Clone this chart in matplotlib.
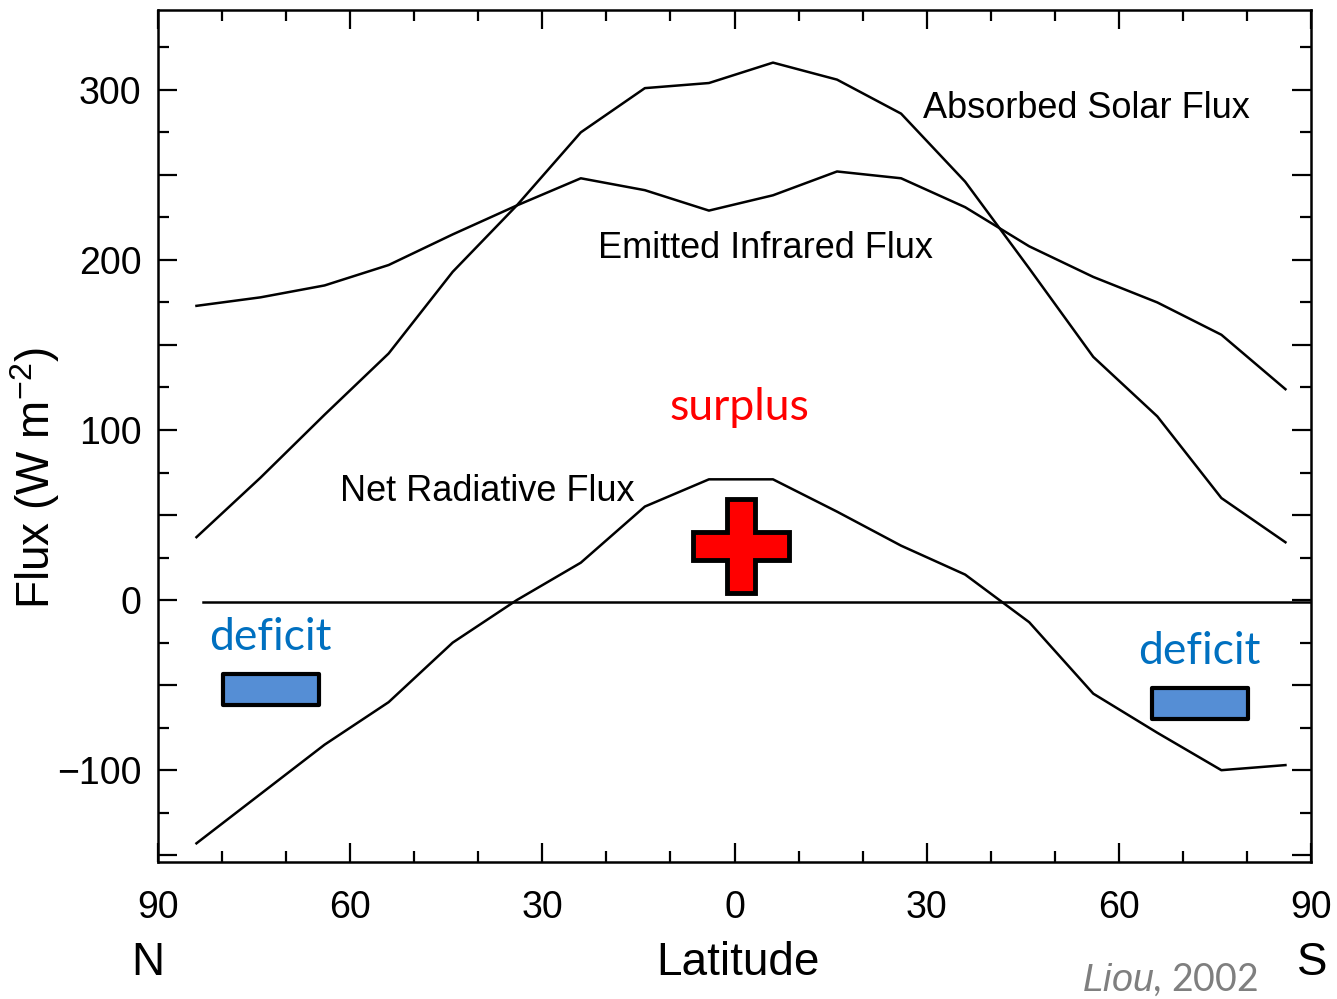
import matplotlib
matplotlib.use("Agg")
import matplotlib.pyplot as plt
from matplotlib.patches import Polygon, Rectangle
from matplotlib.ticker import MultipleLocator, FuncFormatter

plt.rcParams['font.family'] = ['Liberation Sans', 'DejaVu Sans']
plt.rcParams['mathtext.fontset'] = 'custom'
plt.rcParams['mathtext.rm'] = 'Liberation Sans'
plt.rcParams['mathtext.it'] = 'Liberation Sans:italic'

# latitude of each zonal mean (negative = north)
lat = [-84, -74, -64, -54, -44, -34, -24, -14, -4, 6, 16, 26, 36, 46, 56, 66, 76, 86]
solar = [37, 72, 109, 145, 193, 232, 275, 301, 304, 316, 306, 286, 246, 195, 143, 108, 60, 34]
infrared = [173, 178, 185, 197, 215, 232, 248, 241, 229, 238, 252, 248, 231, 208, 190, 175, 156, 124]
net = [-143, -114, -85, -60, -25, 0, 22, 55, 71, 71, 52, 32, 15, -13, -55, -78, -100, -97]

xticks = [-90, -60, -30, 0, 30, 60, 90]
xlabels = ['90', '60', '30', '0', '30', '60', '90']

fig = plt.figure(figsize=(13.37, 9.99), dpi=100)
ax = fig.add_axes([0.1182, 0.1371, 0.8624, 0.853])

ax.plot(lat, solar, color='black', lw=1.8)
ax.plot(lat, infrared, color='black', lw=1.8)
ax.plot(lat, net, color='black', lw=1.8)
ax.plot([-83, 90], [-1, -1], color='black', lw=1.8)

ax.set_xlim(-90, 90)
ax.set_ylim(-154, 347)
ax.set_xticks(xticks)
ax.set_xticklabels(xlabels)
ax.xaxis.set_minor_locator(MultipleLocator(10))
ax.yaxis.set_major_locator(MultipleLocator(50))
ax.yaxis.set_minor_locator(MultipleLocator(25))
ax.yaxis.set_major_formatter(FuncFormatter(lambda v, p: f"{v:.0f}".replace('-', '\u2212') if v % 100 == 0 else ''))

ax.tick_params(which='both', direction='in', top=True, right=True, width=1.6, labelsize=27)
ax.tick_params(which='major', length=14)
ax.tick_params(which='minor', length=8)
ax.tick_params(axis='x', pad=20)
ax.tick_params(axis='y', pad=12)
for s in ax.spines.values():
    s.set_linewidth(1.8)

fig.text(35 / 1337, 1 - 478 / 999, r'Flux (W m$^{-2}$)', fontsize=33, rotation=90,
         ha='center', va='center')

# curve labels
ax.text(55, 289, 'Absorbed Solar Flux', fontsize=26, ha='center', va='center')
ax.text(4.9, 207, 'Emitted Infrared Flux', fontsize=26, ha='center', va='center')
ax.text(-38.6, 64, 'Net Radiative Flux', fontsize=26, ha='center', va='center')

# surplus / deficit annotations
ax.text(0.8, 113, 'surplus', fontsize=32, color='#ff0000', family='Lato', ha='center', va='center')
ax.text(-72.5, -22, 'deficit', fontsize=32, color='#0070c0', family='Lato', ha='center', va='center')
ax.text(72.5, -30, 'deficit', fontsize=32, color='#0070c0', family='Lato', ha='center', va='center')

cx, cy = 1.0, 31.8
vw, vh = 2.2, 27.9
hw, hh = 7.5, 8.5
cross = [(cx - vw, cy + vh), (cx + vw, cy + vh), (cx + vw, cy + hh), (cx + hw, cy + hh),
         (cx + hw, cy - hh), (cx + vw, cy - hh), (cx + vw, cy - vh), (cx - vw, cy - vh),
         (cx - vw, cy - hh), (cx - hw, cy - hh), (cx - hw, cy + hh), (cx - vw, cy + hh)]
ax.add_patch(Polygon(cross, closed=True, facecolor='#ff0000', edgecolor='black', lw=3.5, zorder=5))

for x0, y0 in [(-79.8, -61.8), (65.2, -70.0)]:
    ax.add_patch(Rectangle((x0, y0), 15.0, 18.3, facecolor='#558ed5', edgecolor='black',
                           lw=3, joinstyle='round', zorder=5))

fig.text(148 / 1337, 1 - 963 / 999, 'N', fontsize=33, ha='center', va='center')
fig.text(1312 / 1337, 1 - 963 / 999, 'S', fontsize=33, ha='center', va='center')
fig.text(738 / 1337, 1 - 963 / 999, 'Latitude', fontsize=33, ha='center', va='center')
fig.text(1258 / 1337, 1 - 980 / 999, r'$\it{Liou}$, 2002', fontsize=27, color='#7f7f7f',
         family='Lato', ha='right', va='center')

fig.savefig('out.png', dpi=100)
